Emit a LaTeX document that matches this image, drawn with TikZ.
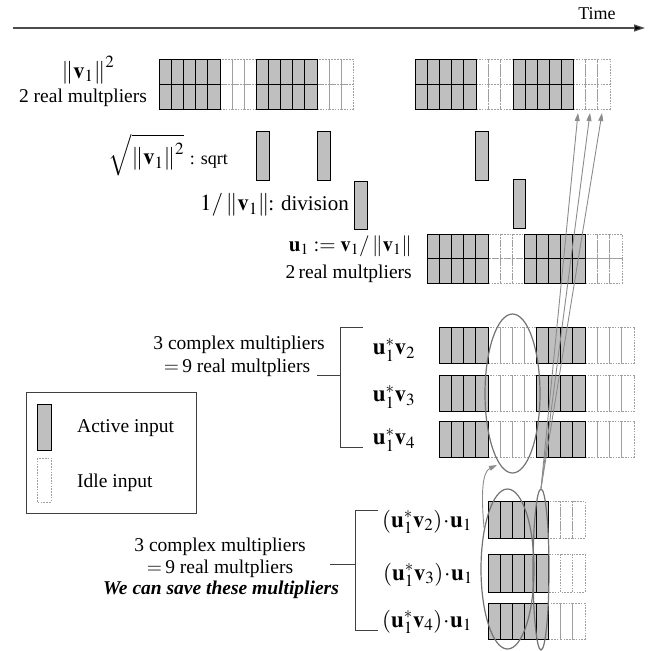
\documentclass[tikz,border=0pt]{standalone}
\usepackage{mathptmx}
\usepackage[no-math]{fontspec}
\setmainfont{Liberation Serif}
\usetikzlibrary{arrows.meta,shapes.geometric}
\tikzset{
  act/.style={fill=gray!50, draw=black, line width=0.8pt},
  idle/.style={draw=gray!75, dash pattern=on 1.6pt off 1.2pt, line width=0.6pt},
  lbl/.style={inner sep=0pt, font=\fontsize{19.5}{22}\selectfont},
  mlbl/.style={inner sep=0pt, font=\fontsize{23}{26}\selectfont},
  brk/.style={draw=black!75, line width=0.9pt},
  ell/.style={ellipse, draw=black!55, line width=1.2pt, inner sep=0pt},
  garrow/.style={draw=black!45, line width=0.9pt, -{Triangle[length=8pt,width=5pt]}},
}
\newcommand{\cellrow}[6]{\foreach \k in {1,...,#3}{\draw[#6] ({#1+(\k-1)*#4},#2) rectangle ++(#4,#5);}}
\newcommand{\nv}{\left\|\mathbf{v}_{1}\right\|}
\begin{document}
\begin{tikzpicture}[x=1pt,y=-1pt]
\useasboundingbox (0,0) rectangle (652,650);
% time axis
\coordinate (t0) at (13,28);
\coordinate (t1) at (645,28);
\draw[draw=black!70, line width=1.2pt, -{Triangle[length=11pt,width=7pt,fill=black]}] (t0) -- (t1);
\node[lbl, font=\fontsize{18}{20}\selectfont] (time) at (597,14) {Time};
% top rows
\foreach \y in {59,84}{
  \cellrow{220}{\y}{3}{12}{25}{idle}
  \cellrow{317}{\y}{3}{12}{25}{idle}
  \cellrow{159}{\y}{5}{12.2}{25}{act}
  \cellrow{256}{\y}{5}{12.2}{25}{act}
  \cellrow{476}{\y}{3}{12.3}{25}{idle}
  \cellrow{573}{\y}{3}{12.3}{25}{idle}
  \cellrow{415}{\y}{5}{12.2}{25}{act}
  \cellrow{513}{\y}{5}{12}{25}{act}
}
\node[mlbl] (nrm) at (88,70) {$\nv^{2}$};
\node[lbl] (rm1) at (83,98) {2 real multpliers};
% sqrt bars
\draw[act] (256,131) rectangle (269,180);
\draw[act] (317,131) rectangle (330,180);
\draw[act] (475,131) rectangle (488,180);
\node[mlbl, anchor=east] (sq) at (228,155) {$\sqrt{\nv^{2}}$\ {\fontsize{18}{22}\selectfont: sqrt}};
% division bars
\draw[act] (354,181) rectangle (367,229);
\draw[act] (513,179) rectangle (525,228);
\node[mlbl, anchor=east] (dv) at (349,205) {$1/\nv$\hspace{-1pt}{\fontsize{21}{22}\selectfont: division}};
% u1 rows
\foreach \y in {234,258.5}{
  \cellrow{488}{\y}{3}{12}{24.5}{idle}
  \cellrow{585}{\y}{3}{12.3}{24.5}{idle}
  \cellrow{427}{\y}{5}{12.2}{24.5}{act}
  \cellrow{524}{\y}{5}{12.2}{24.5}{act}
}
\node[mlbl, anchor=east, font=\fontsize{21}{24}\selectfont] (u1) at (412,246) {$\mathbf{u}_{1}\mathrel{:=}\mathbf{v}_{1}/\nv$};
\node[lbl, anchor=east] (rm2) at (412,274) {2\,real multpliers};
% u*v rows
\foreach \y in {327,375.5,421}{
  \cellrow{488}{\y}{4}{12}{36}{idle}
  \cellrow{585}{\y}{4}{12.25}{36}{idle}
  \cellrow{439}{\y}{4}{12.25}{36}{act}
  \cellrow{536}{\y}{4}{12.25}{36}{act}
}
\node[mlbl] (uv2) at (394,350) {$\mathbf{u}_{1}^{*}\mathbf{v}_{2}$};
\node[mlbl] (uv3) at (394,397) {$\mathbf{u}_{1}^{*}\mathbf{v}_{3}$};
\node[mlbl] (uv4) at (394,440) {$\mathbf{u}_{1}^{*}\mathbf{v}_{4}$};
\draw[brk] (363,327) -- (340,327) -- (340,447) -- (363,447);
\draw[brk] (317,375) -- (340,375);
\node[lbl] (cm1) at (239,345) {3 complex multipliers};
\node[lbl] (rm3) at (237,368) {$=$\,9 real multpliers};
% legend
\draw[draw=black!75, line width=0.9pt] (26,392) rectangle (196,513);
\draw[act] (37,404) rectangle (51,450);
\draw[idle] (37,458) rectangle (51,502);
\node[lbl, anchor=west] (la) at (77,428) {Active input};
\node[lbl, anchor=west] (li) at (77,483) {Idle input};
% bottom rows
\foreach \y/\h in {501/37,554/38,603/36}{
  \cellrow{548}{\y}{3}{12.3}{\h}{idle}
  \cellrow{488}{\y}{5}{12}{\h}{act}
}
\node[mlbl, font=\fontsize{23}{24}\selectfont] (b2) at (427,522) {$(\mathbf{u}_{1}^{*}\mathbf{v}_{2})\!\cdot\!\mathbf{u}_{1}$};
\node[mlbl, font=\fontsize{23}{24}\selectfont] (b3) at (428,575) {$(\mathbf{u}_{1}^{*}\mathbf{v}_{3})\!\cdot\!\mathbf{u}_{1}$};
\node[mlbl, font=\fontsize{23}{24}\selectfont] (b4) at (427,622) {$(\mathbf{u}_{1}^{*}\mathbf{v}_{4})\!\cdot\!\mathbf{u}_{1}$};
\draw[brk] (378,510) -- (355,510) -- (355,630) -- (378,630);
\draw[brk] (330,564) -- (355,564);
\node[lbl] (cm2) at (220,547) {3 complex multipliers};
\node[lbl] (rm4) at (220,569) {$=$\,9 real multpliers};
\node[lbl, font=\fontsize{19.5}{22}\selectfont\bfseries\itshape] (save) at (221,590) {We can save these multipliers};
% ellipses
\node[ell, minimum width=55pt, minimum height=159pt] (E1) at (512.5,393.5) {};
\node[ell, minimum width=53pt, minimum height=160pt] (E2) at (507.5,569) {};
\node[ell, minimum width=16pt, minimum height=161pt] (E3) at (541,569.5) {};
% arrows
\coordinate (a1) at (578,113);
\coordinate (a2) at (590,113);
\coordinate (a3) at (602,113);
\draw[garrow] (E3.north) -- (a1);
\draw[garrow] (E3.north) -- (a2);
\draw[garrow] (E3.north) -- (a3);
\coordinate (ctip) at (497,465);
\draw[garrow] (E2.120) .. controls (481,495) and (482,472) .. (ctip);
\end{tikzpicture}
\end{document}
